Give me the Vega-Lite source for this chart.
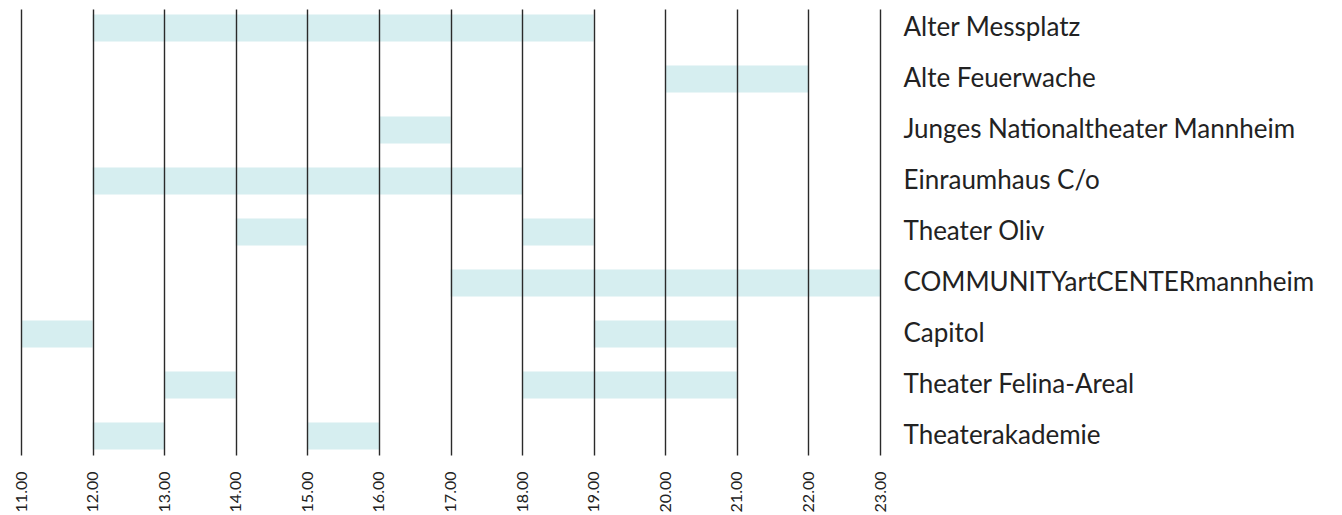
{
  "$schema": "https://vega.github.io/schema/vega-lite/v6.json",
  "autosize": {"type": "none"},
  "width": 859,
  "height": 446,
  "padding": {"left": 21, "top": 9, "right": 462, "bottom": 60},
  "background": "white",
  "config": {"view": {"stroke": null}, "font": "Lato"},
  "data": {"values": [
    {"venue": "Alter Messplatz", "start": 12, "end": 19},
    {"venue": "Alte Feuerwache", "start": 20, "end": 22},
    {"venue": "Junges Nationaltheater Mannheim", "start": 16, "end": 17},
    {"venue": "Einraumhaus C/o", "start": 12, "end": 18},
    {"venue": "Theater Oliv", "start": 14, "end": 15},
    {"venue": "Theater Oliv", "start": 18, "end": 19},
    {"venue": "COMMUNITYartCENTERmannheim", "start": 17, "end": 23},
    {"venue": "Capitol", "start": 11, "end": 12},
    {"venue": "Capitol", "start": 19, "end": 21},
    {"venue": "Theater Felina-Areal", "start": 13, "end": 14},
    {"venue": "Theater Felina-Areal", "start": 18, "end": 21},
    {"venue": "Theaterakademie", "start": 12, "end": 13},
    {"venue": "Theaterakademie", "start": 15, "end": 16}
  ]},
  "mark": {"type": "bar", "color": "#d6eef0", "cornerRadius": 0},
  "encoding": {
    "y": {
      "field": "venue", "type": "nominal", "sort": null, "title": null,
      "scale": {"paddingInner": 0.47, "paddingOuter": 0.11},
      "axis": {
        "orient": "right", "domain": false, "ticks": false, "grid": false,
        "labelPadding": 23, "labelFontSize": 26, "labelColor": "#222222",
        "labelFont": "Lato", "labelLimit": 0
      }
    },
    "x": {
      "field": "start", "type": "quantitative", "title": null,
      "scale": {"domain": [11, 23], "nice": false, "zero": false},
      "axis": {
        "values": [11,12,13,14,15,16,17,18,19,20,21,22,23],
        "format": ".2f", "labelAngle": -90, "labelPadding": 16,
        "labelFontSize": 16, "labelColor": "#222222", "labelFont": "Lato",
        "domain": false, "ticks": false,
        "grid": true, "gridColor": "#2a2a2a", "gridWidth": 1.4, "gridOpacity": 1,
        "zindex": 1, "labelFlush": false
      }
    },
    "x2": {"field": "end"}
  }
}
